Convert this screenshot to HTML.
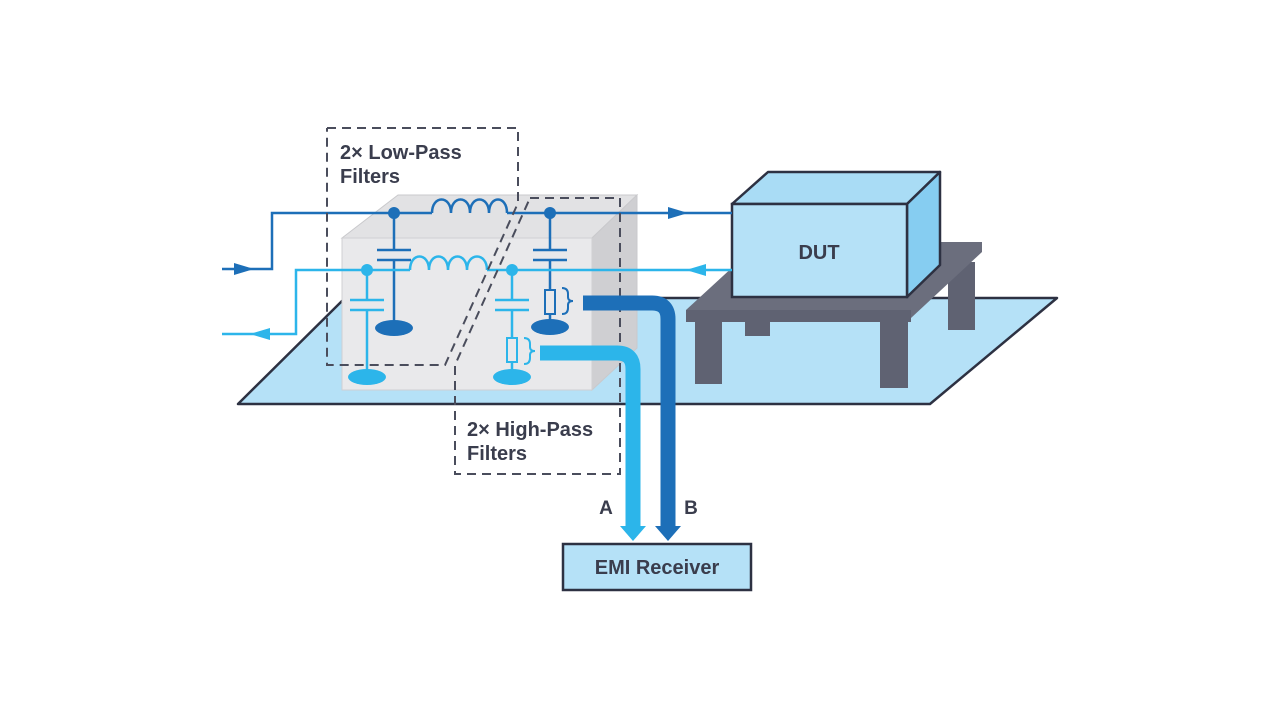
<!DOCTYPE html>
<html><head><meta charset="utf-8"><style>
html,body{margin:0;padding:0;background:#fff;}
svg{display:block;}
text{font-family:"Liberation Sans",sans-serif;font-weight:bold;fill:#3a3d4d;}
</style></head><body>
<svg width="1280" height="721" viewBox="0 0 1280 721" xmlns="http://www.w3.org/2000/svg">
<!-- ground plane -->
<polygon points="238,404 345,298 1057,298 930,404" fill="#b5e1f7" stroke="#2d3142" stroke-width="2.5" stroke-linejoin="round"/>
<!-- filter box -->
<polygon points="342,238 398,195 637,195 592,238" fill="#e2e2e4" stroke="#c9c9cc" stroke-width="1"/>
<polygon points="592,238 637,195 637,348 592,390" fill="#cfcfd2" stroke="#c9c9cc" stroke-width="1"/>
<rect x="342" y="238" width="250" height="152" fill="#e9e9eb" stroke="#d0d0d3" stroke-width="1"/>
<!-- table -->
<rect x="745" y="318" width="25" height="18" fill="#5f6272"/>
<rect x="948" y="262" width="27" height="68" fill="#5f6272"/>
<polygon points="686,310 760,242 982,242 982,252 911,318 686,320" fill="#6b6e7d"/>
<polygon points="686,310 911,310 911,322 686,322" fill="#5f6272"/>
<rect x="695" y="320" width="27" height="64" fill="#5f6272"/>
<rect x="880" y="320" width="28" height="68" fill="#5f6272"/>
<!-- DUT -->
<polygon points="732,204 768,172 940,172 907,204" fill="#a9dcf5" stroke="#2d3142" stroke-width="2.5" stroke-linejoin="round"/>
<polygon points="907,204 940,172 940,265 907,297" fill="#86cdf1" stroke="#2d3142" stroke-width="2.5" stroke-linejoin="round"/>
<rect x="732" y="204" width="175" height="93" fill="#b5e1f7" stroke="#2d3142" stroke-width="2.5"/>
<text x="819" y="259" font-size="20" text-anchor="middle">DUT</text>
<!-- dark wire -->
<g stroke="#1d6fb8" stroke-width="2.5" fill="none">
<polyline points="222,269 272,269 272,213 432,213"/>
<path d="M432,213 c0,-18 19,-18 19,0 c0,-18 19,-18 19,0 c0,-18 19,-18 19,0 c0,-18 18,-18 18,0"/>
<line x1="507" y1="213" x2="732" y2="213"/>
<line x1="394" y1="213" x2="394" y2="250"/><line x1="394" y1="260" x2="394" y2="322"/>
<line x1="377" y1="250" x2="411" y2="250"/><line x1="377" y1="260" x2="411" y2="260"/>
<line x1="550" y1="213" x2="550" y2="250"/><line x1="550" y1="260" x2="550" y2="290"/><line x1="550" y1="314" x2="550" y2="322"/>
<line x1="533" y1="250" x2="567" y2="250"/><line x1="533" y1="260" x2="567" y2="260"/>
<rect x="545" y="290" width="10" height="24" stroke-width="2"/>
<path d="M562,288 q6,0 6,6 v3 q0,4 5,4 q-5,0 -5,4 v3 q0,6 -6,6" stroke-width="2"/>
</g>
<circle cx="394" cy="213" r="6" fill="#1d6fb8"/><circle cx="550" cy="213" r="6" fill="#1d6fb8"/>
<ellipse cx="394" cy="328" rx="19" ry="8" fill="#1d6fb8"/><ellipse cx="550" cy="327" rx="19" ry="8" fill="#1d6fb8"/>
<polygon points="234,263 254,269 234,275" fill="#1d6fb8"/>
<polygon points="668,207 688,213 668,219" fill="#1d6fb8"/>
<!-- light wire -->
<g stroke="#2cb5ea" stroke-width="2.5" fill="none">
<polyline points="222,334 296,334 296,270 410,270"/>
<path d="M410,270 c0,-18 19,-18 19,0 c0,-18 19,-18 19,0 c0,-18 19,-18 19,0 c0,-18 20,-18 20,0"/>
<line x1="487" y1="270" x2="732" y2="270"/>
<line x1="367" y1="270" x2="367" y2="300"/><line x1="367" y1="310" x2="367" y2="372"/>
<line x1="350" y1="300" x2="384" y2="300"/><line x1="350" y1="310" x2="384" y2="310"/>
<line x1="512" y1="270" x2="512" y2="300"/><line x1="512" y1="310" x2="512" y2="338"/><line x1="512" y1="362" x2="512" y2="372"/>
<line x1="495" y1="300" x2="529" y2="300"/><line x1="495" y1="310" x2="529" y2="310"/>
<rect x="507" y="338" width="10" height="24" stroke-width="2"/>
<path d="M524,338 q6,0 6,6 v3 q0,4 5,4 q-5,0 -5,4 v3 q0,6 -6,6" stroke-width="2"/>
</g>
<circle cx="367" cy="270" r="6" fill="#2cb5ea"/><circle cx="512" cy="270" r="6" fill="#2cb5ea"/>
<ellipse cx="367" cy="377" rx="19" ry="8" fill="#2cb5ea"/><ellipse cx="512" cy="377" rx="19" ry="8" fill="#2cb5ea"/>
<polygon points="270,328 250,334 270,340" fill="#2cb5ea"/>
<polygon points="706,264 686,270 706,276" fill="#2cb5ea"/>
<!-- dashed boxes -->
<g stroke="#4a4d5c" stroke-width="2" fill="none" stroke-dasharray="9,6">
<polyline points="327,128 518,128 518,203 445,365 327,365 327,128"/>
<polyline points="530,198 620,198 620,474 455,474 455,365 530,198"/>
</g>
<text x="340" y="159" font-size="20">2× Low-Pass</text>
<text x="340" y="183" font-size="20">Filters</text>
<text x="467" y="436" font-size="20">2× High-Pass</text>
<text x="467" y="460" font-size="20">Filters</text>
<!-- pipes -->
<path d="M583,303 H652 Q668,303 668,319 V528" stroke="#1d6fb8" stroke-width="15" fill="none"/>
<polygon points="655,526 681,526 668,541" fill="#1d6fb8"/>
<path d="M540,353 H617 Q633,353 633,369 V528" stroke="#2cb5ea" stroke-width="15" fill="none"/>
<polygon points="620,526 646,526 633,541" fill="#2cb5ea"/>
<text x="606" y="514" font-size="19" text-anchor="middle">A</text>
<text x="691" y="514" font-size="19" text-anchor="middle">B</text>
<rect x="563" y="544" width="188" height="46" fill="#b5e1f7" stroke="#2d3142" stroke-width="2.5"/>
<text x="657" y="574" font-size="20" text-anchor="middle">EMI Receiver</text>
</svg>
</body></html>
